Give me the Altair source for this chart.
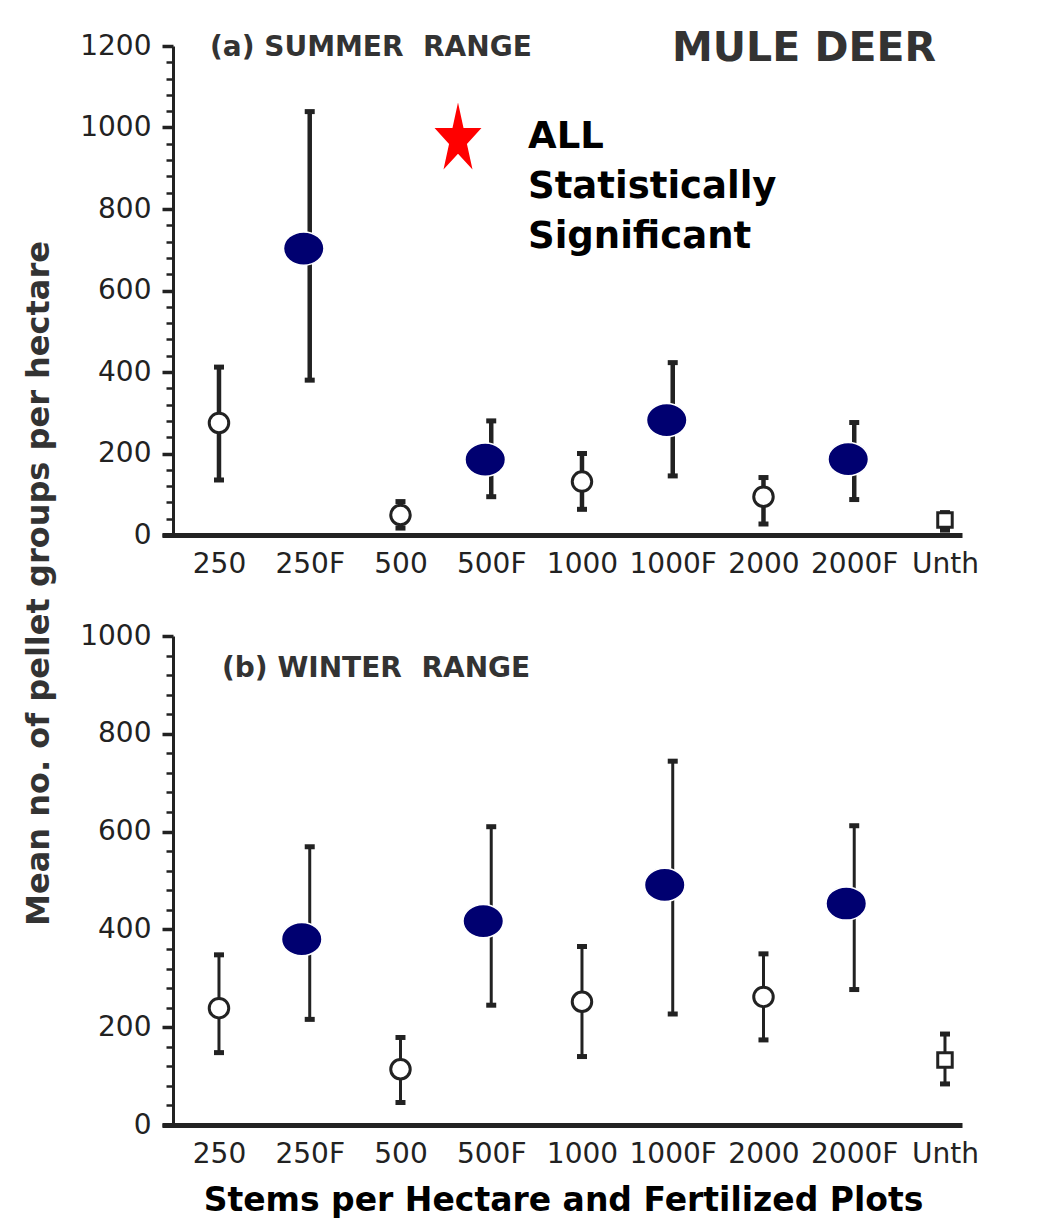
import altair as alt
import pandas as pd

# ---------------- data ----------------
categories = ["250", "250F", "500", "500F", "1000", "1000F", "2000", "2000F", "Unth"]
marker_kind = ["open", "fert", "open", "fert", "open", "fert", "open", "fert", "square"]

summer_mean = [275, 703, 49, 185, 131, 282, 94, 186, 37]
summer_hi = [412, 1039, 82, 280, 200, 423, 141, 276, 55]
summer_lo = [135, 380, 17, 94, 63, 145, 27, 87, 12]

winter_mean = [239, 380, 114, 417, 252, 491, 262, 453, 133]
winter_hi = [348, 569, 179, 610, 365, 744, 350, 612, 186]
winter_lo = [148, 216, 46, 245, 140, 227, 174, 277, 84]

summer_label = ["(a) SUMMER\u00a0\u00a0RANGE"]
winter_label = ["(b) WINTER\u00a0\u00a0RANGE"]
species_label = ["MULE DEER"]
sig_lines = ["ALL", "Statistically", "Significant"]
y_title = "Mean no. of pellet groups per hectare"
x_title = "Stems per Hectare and Fertilized Plots"

# ---------------- styling ----------------
W, H = 800, 489
DARK = "#222222"
NAVY = "#000070"
FONT = "DejaVu Sans"
ELLIPSE = "M-1,0A1,0.82,0,1,1,1,0A1,0.82,0,1,1,-1,0Z"
STAR = ("M0,-1L0.165,-0.236L0.7,-0.236L0.267,0.236L0.433,1L0,0.528"
        "L-0.433,1L-0.267,0.236L-0.7,-0.236L-0.165,-0.236Z")


def panel(mean, lo, hi, ymax, dot_dx, bar_w, x_axis_title):
    df = pd.DataFrame({"cat": categories, "kind": marker_kind,
                       "mean": mean, "lo": lo, "hi": hi})
    x_axis = alt.Axis(
        labelFont=FONT, labelFontSize=28, labelColor=DARK, labelAngle=0,
        labelPadding=15, ticks=False, domainWidth=5, domainColor=DARK,
        grid=False, labelOverlap=False,
        title=x_axis_title if x_axis_title else None,
        **({"titleFont": FONT, "titleFontSize": 33, "titleFontWeight": "bold",
            "titleColor": "#000000", "titleX": 401, "titleY": 75,
            "titleBaseline": "middle", "titleAlign": "center"} if x_axis_title else {}),
    )
    xenc = alt.X("cat:N", sort=categories,
                 scale=alt.Scale(type="point", padding=0.4077, align=0.77),
                 axis=x_axis)
    y_axis_kwargs = dict(
        values=list(range(0, ymax + 1, 40)),
        tickCount=100,
        format="d",
        labelExpr="datum.value % 200 === 0 ? datum.label : ''",
        labelOverlap=False,
        tickSize={"condition": {"test": "datum.value % 200 === 0", "value": 11}, "value": 7},
        tickWidth={"condition": {"test": "datum.value % 200 === 0", "value": 3.5}, "value": 2.5},
        tickColor=DARK, domainWidth=3, domainColor=DARK, offset=-11,
        labelFont=FONT, labelFontSize=28, labelColor=DARK, labelPadding=11,
        grid=False,
    )
    if ymax == 1200:
        y_axis_kwargs.update(dict(
            title=y_title, titleFont=FONT, titleFontSize=32, titleFontWeight="bold",
            titleColor="#333333", titleAngle=270, titleX=-135, titleY=537,
            titleAlign="center", titleBaseline="middle"))
    else:
        y_axis_kwargs["title"] = None
    yscale = alt.Scale(domain=[0, ymax], nice=False, zero=True)
    base = alt.Chart(df).encode(x=xenc)

    bars = base.mark_rule(strokeWidth=bar_w, color=DARK).encode(
        y=alt.Y("lo:Q", scale=yscale, axis=alt.Axis(**y_axis_kwargs)), y2="hi:Q")
    cap_hi = base.mark_tick(size=10, thickness=5, color=DARK, opacity=1).encode(
        y=alt.Y("hi:Q", scale=yscale))
    cap_lo = base.mark_tick(size=10, thickness=5, color=DARK, opacity=1).encode(
        y=alt.Y("lo:Q", scale=yscale))
    open_pts = base.transform_filter(alt.datum.kind == "open").mark_point(
        shape="circle", size=380, filled=True, fill="white", stroke=DARK,
        strokeWidth=3, opacity=1).encode(y=alt.Y("mean:Q", scale=yscale))
    sq_pts = base.transform_filter(alt.datum.kind == "square").mark_point(
        shape="square", size=210, filled=True, fill="white", stroke=DARK,
        strokeWidth=3, opacity=1).encode(y=alt.Y("mean:Q", scale=yscale))
    fert_pts = base.transform_filter(alt.datum.kind == "fert").mark_point(
        shape=ELLIPSE, size=1640, filled=True, fill=NAVY, stroke="white",
        strokeWidth=1.5, opacity=1, xOffset=dot_dx).encode(
        y=alt.Y("mean:Q", scale=yscale))
    return [bars, cap_hi, cap_lo, open_pts, sq_pts, fert_pts]


def label(text, x, y, size, color, align="left", baseline="middle", line_height=None):
    kw = dict(font=FONT, fontSize=size, fontWeight="bold", color=color,
              align=align, baseline=baseline)
    if line_height:
        kw["lineHeight"] = line_height
    return alt.Chart(pd.DataFrame({"k": [0]})).mark_text(**kw).encode(
        x=alt.value(x), y=alt.value(y), text=alt.value(text))


top_layers = panel(summer_mean, summer_lo, summer_hi, 1200, -6, 4.5, None)
top_layers += [
    label(summer_label[0], 48, 2, 28, "#333333"),
    label(species_label[0], 510, 3, 41, "#333333"),
    label(sig_lines, 366, 102, 37, "#000000", baseline="alphabetic", line_height=50),
    alt.Chart(pd.DataFrame({"k": [0]})).mark_point(
        shape=STAR, size=4489, filled=True, fill="#ff0000", strokeWidth=0,
        opacity=1).encode(x=alt.value(296), y=alt.value(90)),
]
top = alt.layer(*top_layers).properties(width=W, height=H)

bot_layers = panel(winter_mean, winter_lo, winter_hi, 1000, -8, 3, x_title)
bot_layers += [label(winter_label[0], 60, 33, 28, "#333333")]
bottom = alt.layer(*bot_layers).properties(width=W, height=H)

chart = alt.vconcat(top, bottom, spacing=101, bounds="flush").properties(
    padding={"left": 14, "top": 20, "right": 5, "bottom": 5},
    background="white",
).configure_view(stroke=None)

chart.save("out.html", embed_options={"renderer": "svg", "actions": False})
